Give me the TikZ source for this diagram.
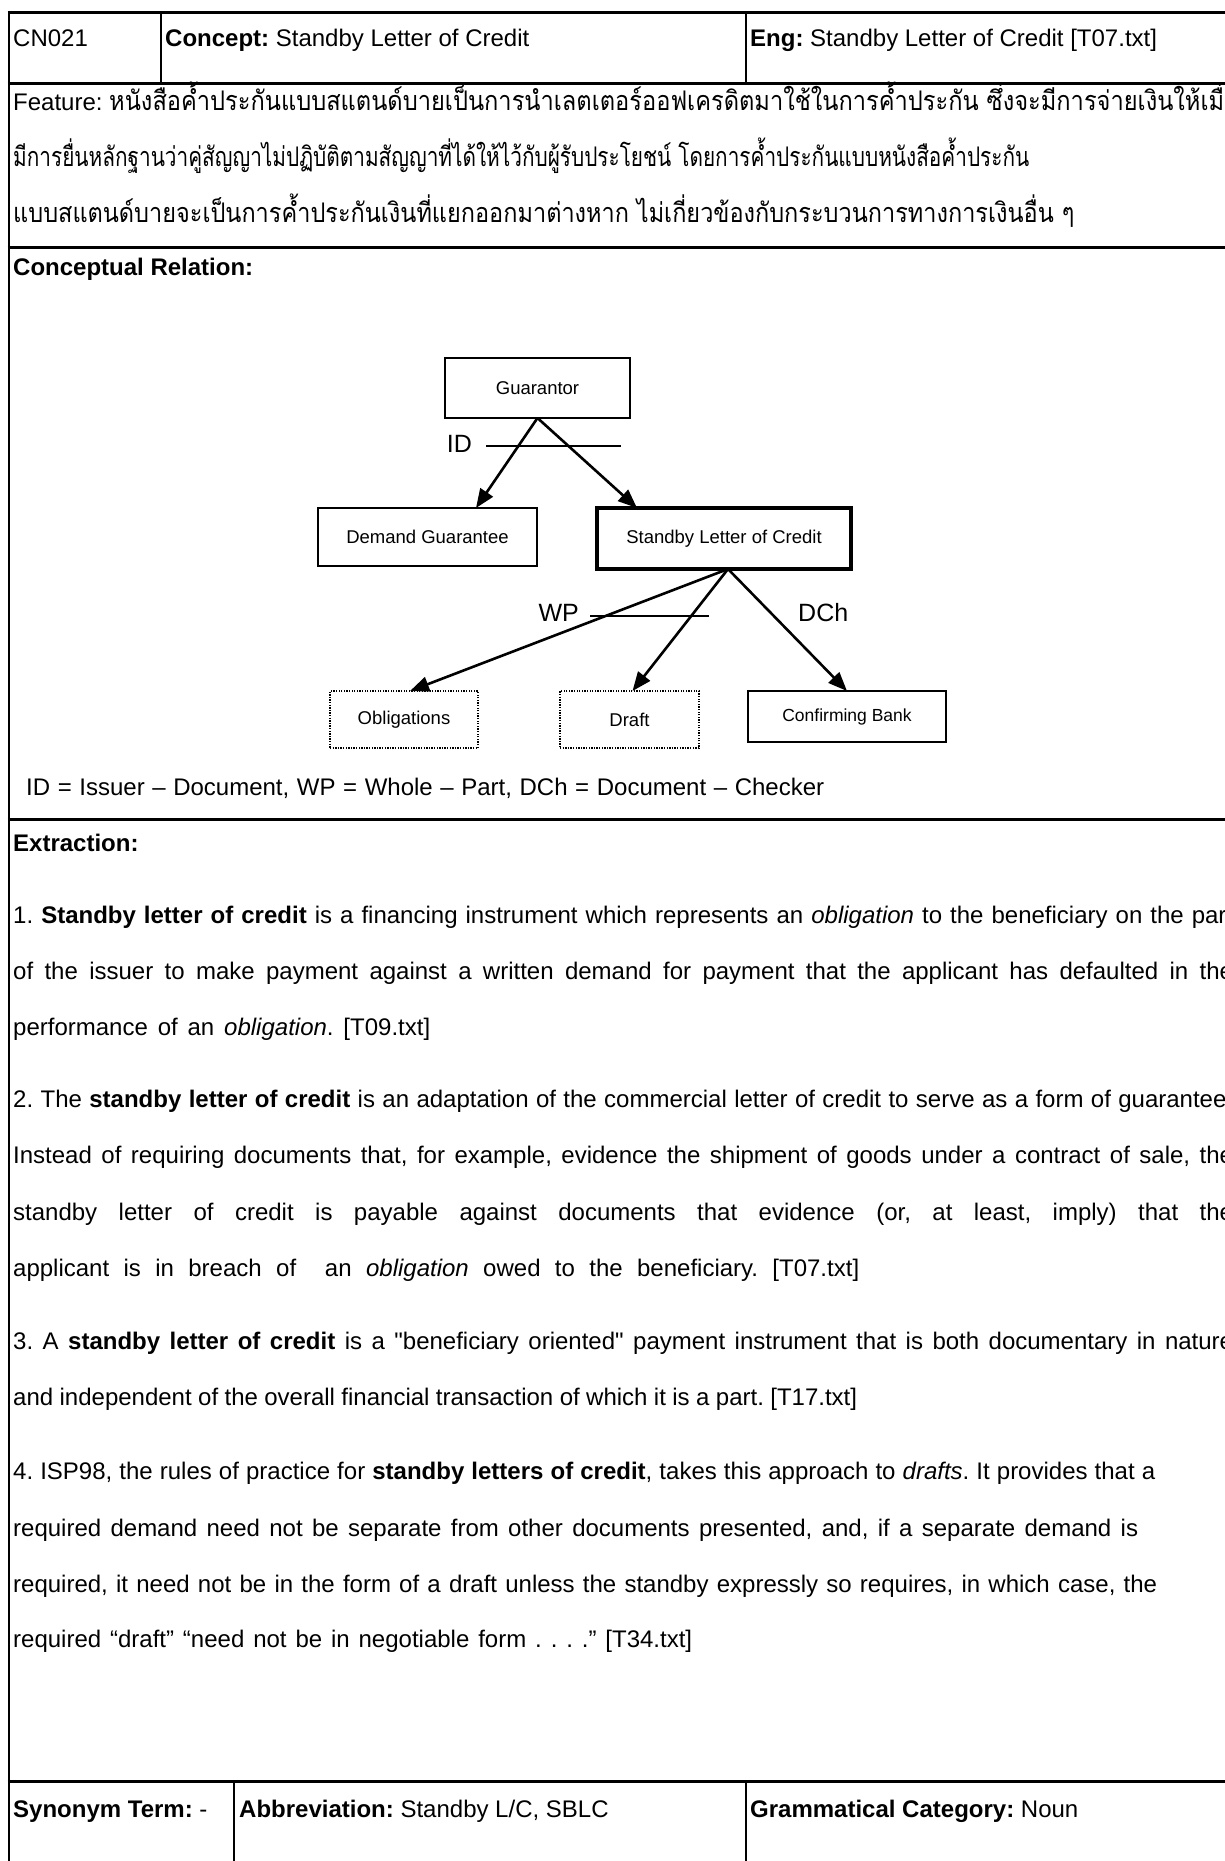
\documentclass[tikz,border=0pt]{standalone}
\usepackage{fontspec}
\usepackage{graphicx}
\setmainfont{Liberation Sans}[Ligatures=TeXOff]
\newfontfamily\thaifont[Script=Thai]{Loma}
\usetikzlibrary{arrows.meta}
\frenchspacing

% one line of running text, spread to a given width
\newcommand\jline[2][1220pt]{\makebox[#1][s]{#2}}
% Thai text set to a fixed width
\newcommand\thaiw[2]{\resizebox{#1}{\height}{\thaifont #2}}

\begin{document}
\begin{tikzpicture}[x=1pt,y=-1pt,
  hrule/.style={line width=3pt},
  vrule/.style={line width=2.5pt},
  txt/.style={anchor=base west, inner sep=0pt, font=\fontsize{24}{28}\selectfont},
  thaitxt/.style={anchor=base west, inner sep=0pt, font=\fontsize{27}{30}\selectfont},
  box/.style={draw, line width=1.8pt, inner sep=0pt, outer sep=0pt,
    font=\fontsize{18.5}{22}\selectfont},
  thickbox/.style={box, line width=4pt},
  dotbox/.style={box, line width=1.3pt, dash pattern=on 1.3pt off 1.3pt},
  arr/.style={line width=2.6pt, -{Triangle[length=19pt,width=15pt]}},
  bar/.style={line width=2.2pt},
  rel/.style={inner sep=0pt, font=\fontsize{25}{28}\selectfont}
]
\useasboundingbox (0,0) rectangle (1225,1861);
\clip (0,0) rectangle (1225,1861);

% ---- table rules ----
\draw[hrule] (7.5,12) -- (1240,12);
\draw[hrule] (7.5,83) -- (1240,83);
\draw[hrule] (7.5,247) -- (1240,247);
\draw[hrule] (7.5,819) -- (1240,819);
\draw[hrule] (7.5,1781) -- (1240,1781);
\draw[vrule] (9,10.5) -- (9,1870);
\draw[vrule] (161,12) -- (161,83);
\draw[vrule] (746,12) -- (746,83);
\draw[vrule] (234,1781) -- (234,1870);
\draw[vrule] (746,1781) -- (746,1870);

% ---- header row ----
\node[txt] (cn) at (13,46) {CN021};
\node[txt] (concept) at (165,46) {\textbf{Concept:} Standby Letter of Credit};
\node[txt] (eng) at (750,46) {\textbf{Eng:} Standby Letter of Credit [T07.txt]};

% ---- feature ----
\node[txt] (feat1) at (13,110) {Feature: {\fontsize{27}{30}\selectfont\thaiw{1129pt}{หนังสือค้ำประกันแบบสแตนด์บายเป็นการนำเลตเตอร์ออฟเครดิตมาใช้ในการค้ำประกัน ซึ่งจะมีการจ่ายเงินให้เมื่อ}}};
\node[thaitxt] (feat2) at (13,166) {\thaiw{1016pt}{มีการยื่นหลักฐานว่าคู่สัญญาไม่ปฏิบัติตามสัญญาที่ได้ให้ไว้กับผู้รับประโยชน์ โดยการค้ำประกันแบบหนังสือค้ำประกัน}};
\node[thaitxt] (feat3) at (13,222) {\thaiw{1061pt}{แบบสแตนด์บายจะเป็นการค้ำประกันเงินที่แยกออกมาต่างหาก ไม่เกี่ยวข้องกับกระบวนการทางการเงินอื่น ๆ}};

% ---- conceptual relation ----
\node[txt] (crel) at (13,275) {\textbf{Conceptual Relation:}};

\node[box, minimum width=185, minimum height=60] (guar) at (537.5,388) {Guarantor};
\node[box, minimum width=219, minimum height=58] (dg) at (427.5,537) {Demand Guarantee};
\node[thickbox, minimum width=254, minimum height=61] (slc) at (724,538.5) {Standby Letter of Credit};
\node[dotbox, minimum width=148, minimum height=57] (obl) at (404,719.5) {Obligations};
\node[dotbox, minimum width=139, minimum height=57] (draft) at (629.5,719.5) {Draft};
\node[box, minimum width=198, minimum height=51, font=\fontsize{17.5}{20}\selectfont] (cb) at (847,716.5) {Confirming Bank};

\draw[arr] (guar.south) -- ([xshift=48.5]dg.north);
\draw[arr] (guar.south) -- ([xshift=-87]slc.north);
\draw[arr] ([xshift=4]slc.south) -- ([xshift=6]obl.north);
\draw[arr] ([xshift=4]slc.south) -- ([xshift=3]draft.north);
\draw[arr] ([xshift=4]slc.south) -- (cb.north);

\coordinate (idl) at (486,446);
\coordinate (idr) at (621,446);
\draw[bar] (idl) -- (idr);
\node[rel, anchor=east] (idlab) at (472,444) {ID};

\coordinate (wpl) at (590,616);
\coordinate (wpr) at (709,616);
\draw[bar] (wpl) -- (wpr);
\node[rel, anchor=east] (wplab) at (579,613) {WP};
\node[rel, anchor=west] (dchlab) at (798,613) {DCh};

\node[txt] (legend) at (26,795) {\jline[798pt]{ID = Issuer – Document, WP = Whole – Part, DCh = Document – Checker}};

% ---- extraction ----
\node[txt] (extr) at (13,851) {\textbf{Extraction:}};

\node[txt] (e1a) at (13,923) {\jline{1. \textbf{Standby letter of credit} is a financing instrument which represents an \textit{obligation} to the beneficiary on the part}};
\node[txt] (e1b) at (13,979) {\jline{of the issuer to make payment against a written demand for payment that the applicant has defaulted in the}};
\node[txt] (e1c) at (13,1035) {\jline[417pt]{performance of an \textit{obligation}. [T09.txt]}};

\node[txt] (e2a) at (13,1107) {\jline{2. The \textbf{standby letter of credit} is an adaptation of the commercial letter of credit to serve as a form of guarantee.}};
\node[txt] (e2b) at (13,1163) {\jline{Instead of requiring documents that, for example, evidence the shipment of goods under a contract of sale, the}};
\node[txt] (e2c) at (13,1220) {\jline{standby letter of credit is payable against documents that evidence (or, at least, imply) that the}};
\node[txt] (e2d) at (13,1276) {\jline[846pt]{applicant is in breach of \ an \textit{obligation} owed to the beneficiary. [T07.txt]}};

\node[txt] (e3a) at (13,1349) {\jline{3. A \textbf{standby letter of credit} is a "beneficiary oriented" payment instrument that is both documentary in nature}};
\node[txt] (e3b) at (13,1405) {\jline[844pt]{and independent of the overall financial transaction of which it is a part. [T17.txt]}};

\node[txt] (e4a) at (13,1479) {\jline[1142pt]{4. ISP98, the rules of practice for \textbf{standby letters of credit}, takes this approach to \textit{drafts}. It provides that a}};
\node[txt] (e4b) at (13,1536) {\jline[1125pt]{required demand need not be separate from other documents presented, and, if a separate demand is}};
\node[txt] (e4c) at (13,1592) {\jline[1144pt]{required, it need not be in the form of a draft unless the standby expressly so requires, in which case, the}};
\node[txt] (e4d) at (13,1647) {\jline[679pt]{required “draft” “need not be in negotiable form . . . .” [T34.txt]}};

% ---- bottom row ----
\node[txt] (syn) at (13,1817) {\textbf{Synonym Term:} -};
\node[txt] (abbr) at (239,1817) {\textbf{Abbreviation:} Standby L/C, SBLC};
\node[txt] (gram) at (750,1817) {\textbf{Grammatical Category:} Noun};
\end{tikzpicture}
\end{document}
